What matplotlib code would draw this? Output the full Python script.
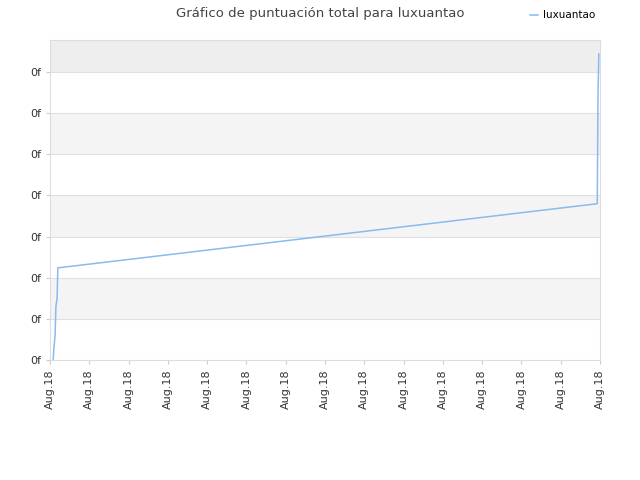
import matplotlib
matplotlib.use("Agg")
import matplotlib.pyplot as plt

xs = [0.08, 0.1, 0.13, 0.15, 0.18, 0.2, 13.93, 13.95, 13.97]
ys = [0.0, 0.3, 0.6, 1.3, 1.5, 2.24, 3.8, 6.5, 7.44]
xtick_labels = ["Aug.18"] * 15
ytick_labels = ["0f"] * 8

fig = plt.figure(figsize=(6.4, 4.8), dpi=100)
ax = fig.add_axes([50/640, 120/480, 550/640, 320/480])
ax.set_xlim(0, 14)
ax.set_ylim(0, 7.78)
bands = [(1, 2, "#f4f4f4"), (3, 4, "#f4f4f4"), (5, 6, "#f4f4f4"), (7, 7.78, "#eeeeee")]
for a, b, c in bands:
    ax.axhspan(a, b, color=c, zorder=0, lw=0)
for y in range(1, 8):
    ax.axhline(y, color="#e0e0e0", lw=0.8, zorder=1)
ax.plot(xs, ys, color="#88bbee", lw=1.1, zorder=3, label="luxuantao")
ax.set_xticks(range(15))
ax.set_xticklabels(xtick_labels, rotation=90, fontsize=8, color="#333333")
ax.set_yticks(range(8))
ax.set_yticklabels(ytick_labels, fontsize=8, color="#333333")
for s in ax.spines.values():
    s.set_color("#dddddd")
ax.tick_params(length=3, color="#cccccc")
fig.text(0.5, 0.972, "Gráfico de puntuación total para luxuantao", ha="center", va="center", fontsize=9.5, color="#444444")
fig.legend(loc="upper right", bbox_to_anchor=(0.945, 0.998), frameon=False, fontsize=7.5, handlelength=0.8, handletextpad=0.5)
fig.savefig("out.png", dpi=100)
